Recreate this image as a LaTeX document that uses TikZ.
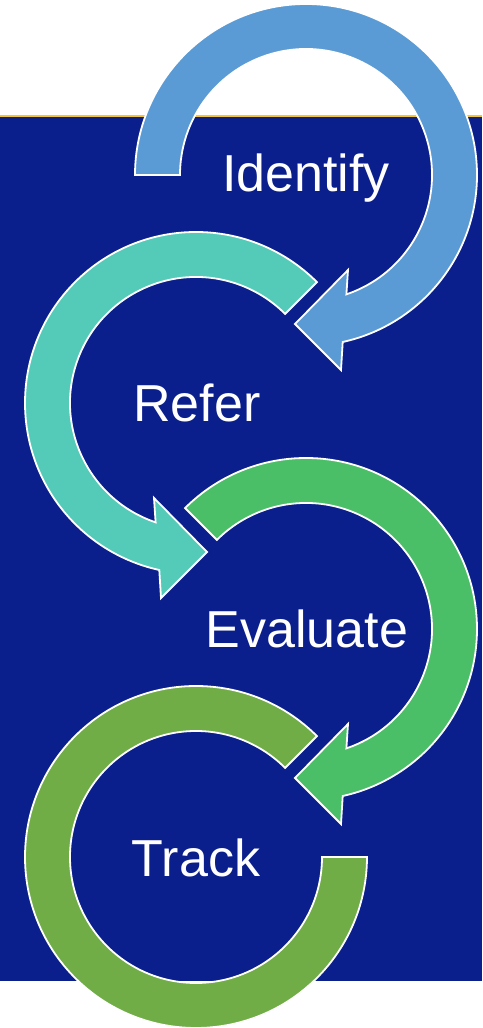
\documentclass[tikz,border=0pt]{standalone}
\usepackage{fontspec}
\setmainfont{Liberation Sans}
\definecolor{bgblue}{RGB}{11,31,140}
\definecolor{goldline}{RGB}{240,196,60}
\definecolor{cidentify}{RGB}{91,155,213}
\definecolor{crefer}{RGB}{84,203,184}
\definecolor{cevaluate}{RGB}{75,191,103}
\definecolor{ctrack}{RGB}{112,173,71}
\begin{document}
\begin{tikzpicture}[x=1pt,y=1pt,
  band/.style={draw=white, line width=1.8pt, line join=miter},
  lbl/.style={text=white, font=\fontsize{52}{60}\selectfont, anchor=base, inner sep=0pt}]
\useasboundingbox (0,0) rectangle (482,1028);
\fill[white] (0,0) rectangle (482,1028);
\fill[bgblue] (0,47) rectangle (482,912);
\draw[goldline, line width=1.5pt] (0,912) -- (482,912);

% Identify (clockwise, tail at 180)
\begin{scope}[shift={(306,853)}]
\draw[band, fill=cidentify] (180:171) arc[start angle=180, end angle=-77.6, radius=171]
  -- (35,-195) -- (-11,-149) -- (42,-95) -- (-71.3:126)
  arc[start angle=-71.3, end angle=180, radius=126] -- cycle;
\end{scope}

% Refer (counterclockwise, tail at 45)
\begin{scope}[shift={(196,625)}]
\draw[band, fill=crefer] (45:171) arc[start angle=45, end angle=257.6, radius=171]
  -- (-35,-195) -- (11,-149) -- (-42,-95) -- (251.3:126)
  arc[start angle=251.3, end angle=45, radius=126] -- cycle;
\end{scope}

% Evaluate (clockwise, tail at 135)
\begin{scope}[shift={(306,399)}]
\draw[band, fill=cevaluate] (135:171) arc[start angle=135, end angle=-77.6, radius=171]
  -- (35,-195) -- (-11,-149) -- (42,-95) -- (-71.3:126)
  arc[start angle=-71.3, end angle=135, radius=126] -- cycle;
\end{scope}

% Track (block arc from 45 to 360)
\begin{scope}[shift={(196,171)}]
\draw[band, fill=ctrack] (45:171) arc[start angle=45, end angle=360, radius=171]
  -- (0:126) arc[start angle=360, end angle=45, radius=126] -- cycle;
\end{scope}

\node[lbl] (identify) at (306,836) {Identify};
\node[lbl] (refer) at (197,606) {Refer};
\node[lbl] (evaluate) at (307,380) {Evaluate};
\node[lbl] (track) at (196,151) {Track};
\end{tikzpicture}
\end{document}
